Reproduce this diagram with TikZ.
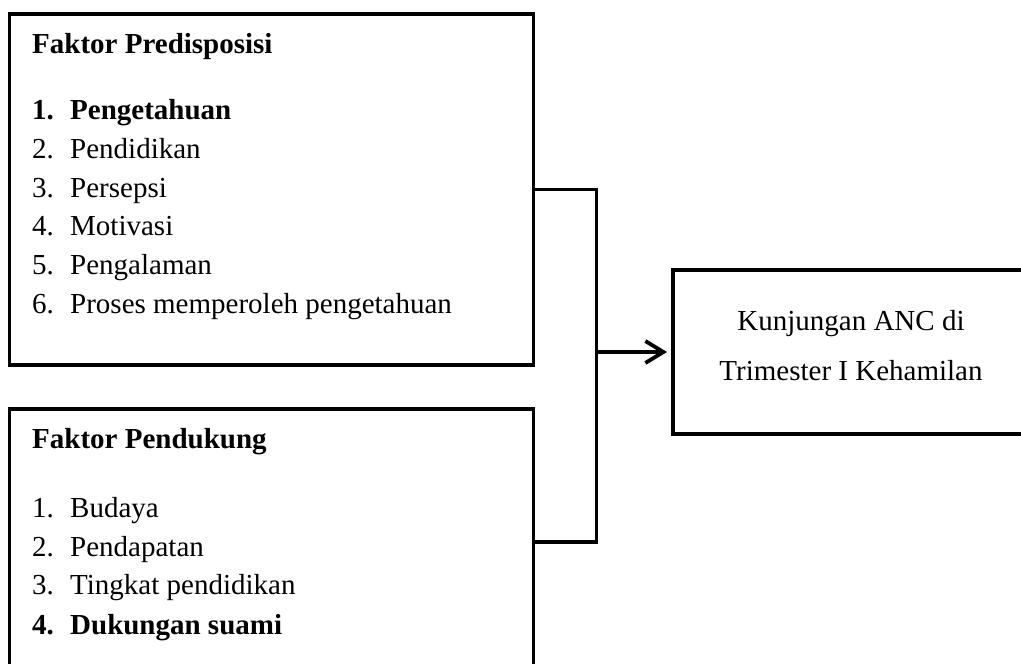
\documentclass[tikz,border=0pt]{standalone}
\usepackage{fontspec}
\setmainfont{Liberation Serif}
\usetikzlibrary{arrows.meta,calc}
\newcommand\numitem[2]{\makebox[38pt][l]{#1}#2}
\begin{document}
\begin{tikzpicture}[x=1pt,y=-1pt,
  box/.style={draw,line width=3.8pt,outer sep=0pt,inner sep=0pt,anchor=north west},
  txt/.style={anchor=base west,inner sep=0pt,font=\fontsize{29}{35}\selectfont},
  ctxt/.style={anchor=base,inner sep=0pt,font=\fontsize{29}{35}\selectfont},
  conn/.style={line width=3.8pt},
]
\clip (0,0) rectangle (1021,664);
% boxes
\node[box,minimum width=524pt,minimum height=351pt] (b1) at (9.5,14) {};
\node[box,minimum width=524pt,minimum height=266pt] (b2) at (9.5,409) {};
\node[box,minimum width=400pt,minimum height=164pt] (b3) at (673,270) {};
% box 1 text
\node[txt,font=\fontsize{29}{35}\selectfont\bfseries] (t1h) at (32,53) {Faktor Predisposisi};
\node[txt,font=\fontsize{29}{35}\selectfont\bfseries] (t11) at (32,119) {\numitem{1.}{Pengetahuan}};
\node[txt] (t12) at (32,158) {\numitem{2.}{Pendidikan}};
\node[txt] (t13) at (32,197) {\numitem{3.}{Persepsi}};
\node[txt] (t14) at (32,235) {\numitem{4.}{Motivasi}};
\node[txt] (t15) at (32,274) {\numitem{5.}{Pengalaman}};
\node[txt] (t16) at (32,313) {\numitem{6.}{Proses memperoleh pengetahuan}};
% box 2 text
\node[txt,font=\fontsize{29}{35}\selectfont\bfseries] (t2h) at (32,448) {Faktor Pendukung};
\node[txt] (t21) at (32,517) {\numitem{1.}{Budaya}};
\node[txt] (t22) at (32,556) {\numitem{2.}{Pendapatan}};
\node[txt] (t23) at (32,594) {\numitem{3.}{Tingkat pendidikan}};
\node[txt,font=\fontsize{29}{35}\selectfont\bfseries] (t24) at (32,634) {\numitem{4.}{Dukungan suami}};
% box 3 text
\node[ctxt] (t31) at (851,330) {Kunjungan ANC di};
\node[ctxt] (t32) at (851,380) {Trimester I Kehamilan};
% connectors
\coordinate (j) at ([xshift=63pt]b1.east |- b3.west);
\draw[conn] (b1.east) -| (j) |- (b2.east);
\draw[conn,-{Straight Barb[length=18pt,width=22pt,line width=3.8pt]},shorten >=6pt] (j) -- (b3.west);
\end{tikzpicture}
\end{document}
